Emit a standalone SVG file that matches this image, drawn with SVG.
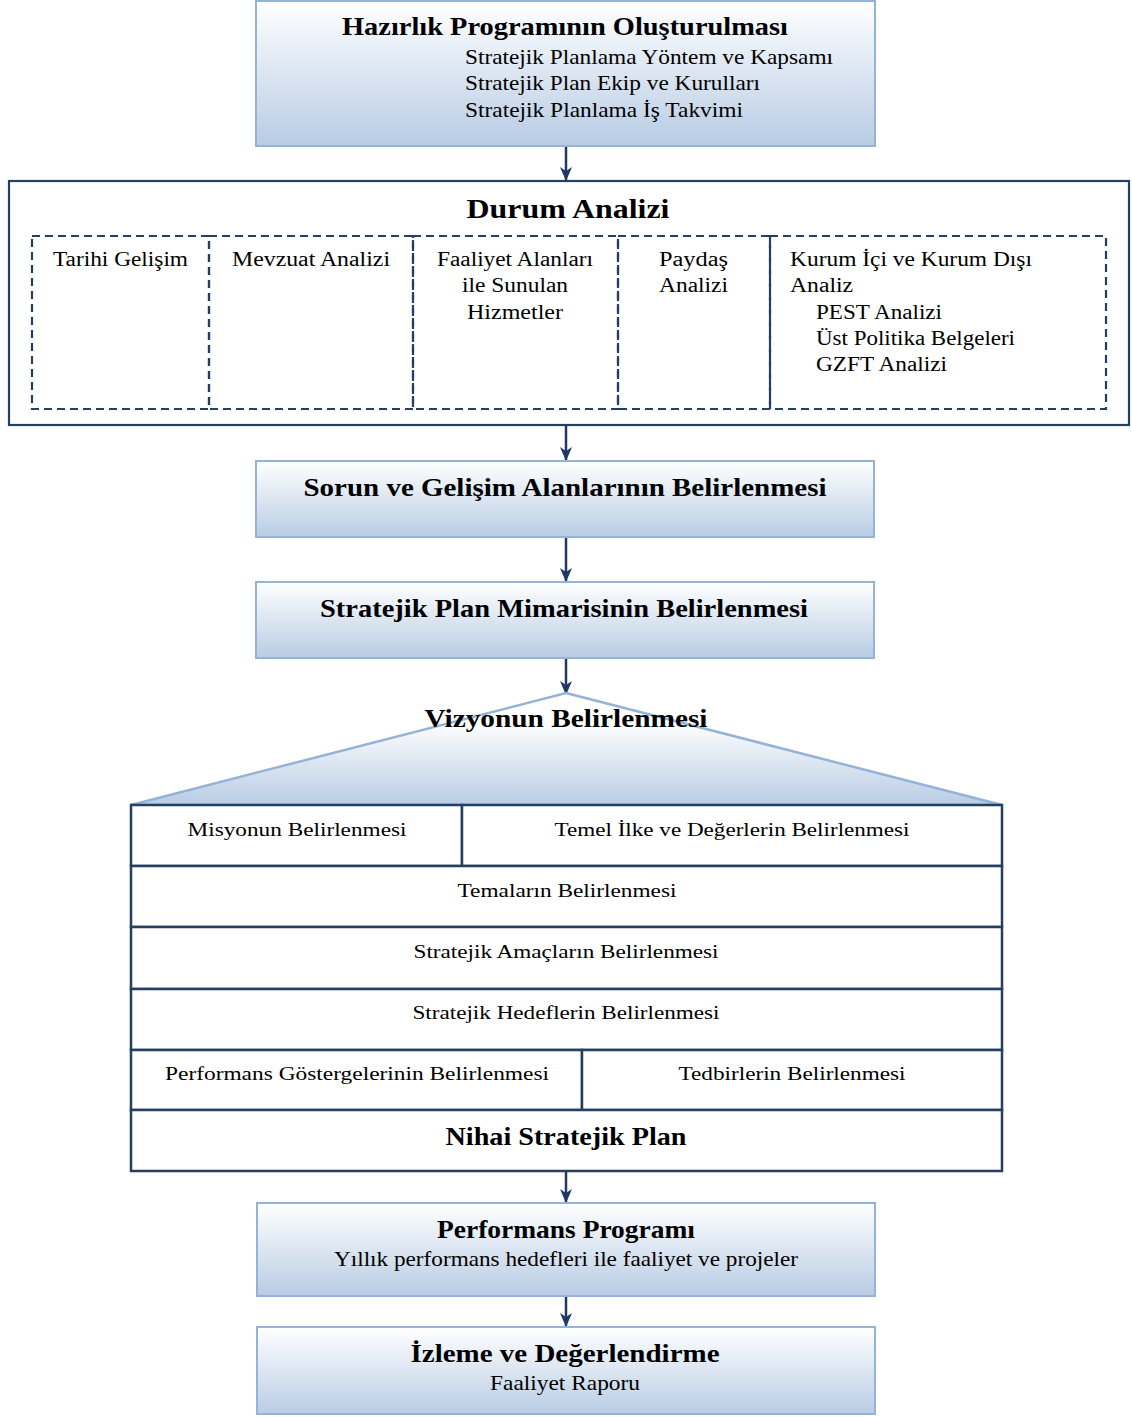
<svg xmlns="http://www.w3.org/2000/svg" width="1132" height="1417" viewBox="0 0 1132 1417">
<style>
text{font-family:"Liberation Serif","Times New Roman",serif;fill:#000}
.t{font-weight:bold;font-size:26px;text-anchor:middle}
.s{font-size:21px}
.m{font-size:20px}
.r{font-size:19px;text-anchor:middle}
.c{text-anchor:middle}
.gbox{fill:url(#g);stroke:#95b3d7;stroke-width:2}
.dash{fill:none;stroke:#243f60;stroke-width:2.2;stroke-dasharray:8 5}
.tab{fill:#fff;stroke:#243f60;stroke-width:2.5}
.con{stroke:#1f3864;stroke-width:2.5;fill:none;marker-end:url(#ah)}
</style>
<defs>
<linearGradient id="g" x1="0" y1="0" x2="0" y2="1">
<stop offset="0" stop-color="#ffffff"/>
<stop offset="1" stop-color="#b8cce4"/>
</linearGradient>
<linearGradient id="gt" x1="0" y1="0" x2="0" y2="1">
<stop offset="0.25" stop-color="#ffffff"/>
<stop offset="1" stop-color="#b8cce4"/>
</linearGradient>
<marker id="ah" markerWidth="14" markerHeight="12" refX="13" refY="6" orient="auto" markerUnits="userSpaceOnUse" viewBox="0 0 14 12">
<path d="M0,0 L14,6 L0,12 L4,6 Z" fill="#1f3864"/>
</marker>
</defs>

<g id="connectors">
<line class="con" x1="566" y1="147" x2="566" y2="180"/>
<line class="con" x1="566" y1="426" x2="566" y2="460"/>
<line class="con" x1="566" y1="538" x2="566" y2="581"/>
<line class="con" x1="566" y1="659" x2="566" y2="694"/>
<line class="con" x1="566" y1="1172" x2="566" y2="1202"/>
<line class="con" x1="566" y1="1297" x2="566" y2="1326"/>
</g>

<g id="hazirlik">
<rect class="gbox" x="256" y="1" width="619" height="145"/>
<text class="t" x="565" y="35" textLength="446" lengthAdjust="spacingAndGlyphs">Hazırlık Programının Oluşturulması</text>
<text class="s" x="465" y="64" textLength="368" lengthAdjust="spacingAndGlyphs">Stratejik Planlama Yöntem ve Kapsamı</text>
<text class="s" x="465" y="90" textLength="295" lengthAdjust="spacingAndGlyphs">Stratejik Plan Ekip ve Kurulları</text>
<text class="s" x="465" y="117" textLength="278" lengthAdjust="spacingAndGlyphs">Stratejik Planlama İş Takvimi</text>
</g>

<g id="durum">
<rect x="9" y="181" width="1120" height="244" fill="#fff" stroke="#243f60" stroke-width="2.2"/>
<text class="t" x="568" y="218" style="font-size:28px" textLength="203" lengthAdjust="spacingAndGlyphs">Durum Analizi</text>
<g id="tarihi">
<rect class="dash" x="32" y="236" width="177" height="173"/>
<text class="m" x="53" y="266" textLength="135" lengthAdjust="spacingAndGlyphs">Tarihi Gelişim</text>
</g>
<g id="mevzuat">
<rect class="dash" x="209" y="236" width="204" height="173"/>
<text class="m" x="232" y="266" textLength="158" lengthAdjust="spacingAndGlyphs">Mevzuat Analizi</text>
</g>
<g id="faaliyet">
<rect class="dash" x="413" y="236" width="205" height="173"/>
<text class="m c" x="515" y="266" textLength="156" lengthAdjust="spacingAndGlyphs">Faaliyet Alanları</text>
<text class="m c" x="515" y="292" textLength="106" lengthAdjust="spacingAndGlyphs">ile Sunulan</text>
<text class="m c" x="515" y="319" textLength="96" lengthAdjust="spacingAndGlyphs">Hizmetler</text>
</g>
<g id="paydas">
<rect class="dash" x="618" y="236" width="152" height="173"/>
<text class="m" x="659" y="266" textLength="69" lengthAdjust="spacingAndGlyphs">Paydaş</text>
<text class="m" x="659" y="292" textLength="69" lengthAdjust="spacingAndGlyphs">Analizi</text>
</g>
<g id="kurum">
<rect class="dash" x="770" y="236" width="336" height="173"/>
<text class="m" x="790" y="266" textLength="242" lengthAdjust="spacingAndGlyphs">Kurum İçi ve Kurum Dışı</text>
<text class="m" x="790" y="292" textLength="63" lengthAdjust="spacingAndGlyphs">Analiz</text>
<text class="m" x="816" y="319" textLength="126" lengthAdjust="spacingAndGlyphs">PEST Analizi</text>
<text class="m" x="816" y="345" textLength="199" lengthAdjust="spacingAndGlyphs">Üst Politika Belgeleri</text>
<text class="m" x="816" y="371" textLength="131" lengthAdjust="spacingAndGlyphs">GZFT Analizi</text>
</g>
</g>

<g id="sorun">
<rect class="gbox" x="256" y="461" width="618" height="76"/>
<text class="t" x="565" y="496" textLength="523" lengthAdjust="spacingAndGlyphs">Sorun ve Gelişim Alanlarının Belirlenmesi</text>
</g>

<g id="mimari">
<rect class="gbox" x="256" y="582" width="618" height="76"/>
<text class="t" x="564" y="617" textLength="488" lengthAdjust="spacingAndGlyphs">Stratejik Plan Mimarisinin Belirlenmesi</text>
</g>

<g id="vizyon">
<polygon points="566,693 1002,805 131,805" fill="url(#gt)" stroke="#95b3d7" stroke-width="2.5"/>
<text class="t" x="566" y="727" textLength="283" lengthAdjust="spacingAndGlyphs">Vizyonun Belirlenmesi</text>
</g>

<g id="misyon">
<rect class="tab" x="131" y="805" width="331" height="61"/>
<text class="r" x="297" y="836" textLength="219" lengthAdjust="spacingAndGlyphs">Misyonun Belirlenmesi</text>
</g>
<g id="temel">
<rect class="tab" x="462" y="805" width="540" height="61"/>
<text class="r" x="732" y="836" textLength="355" lengthAdjust="spacingAndGlyphs">Temel İlke ve Değerlerin Belirlenmesi</text>
</g>
<g id="temalar">
<rect class="tab" x="131" y="866" width="871" height="61"/>
<text class="r" x="567" y="897" textLength="219" lengthAdjust="spacingAndGlyphs">Temaların Belirlenmesi</text>
</g>
<g id="amaclar">
<rect class="tab" x="131" y="927" width="871" height="62"/>
<text class="r" x="566" y="958" textLength="305" lengthAdjust="spacingAndGlyphs">Stratejik Amaçların Belirlenmesi</text>
</g>
<g id="hedefler">
<rect class="tab" x="131" y="989" width="871" height="61"/>
<text class="r" x="566" y="1019" textLength="307" lengthAdjust="spacingAndGlyphs">Stratejik Hedeflerin Belirlenmesi</text>
</g>
<g id="gostergeler">
<rect class="tab" x="131" y="1050" width="451" height="60"/>
<text class="r" x="357" y="1080" textLength="384" lengthAdjust="spacingAndGlyphs">Performans Göstergelerinin Belirlenmesi</text>
</g>
<g id="tedbirler">
<rect class="tab" x="582" y="1050" width="420" height="60"/>
<text class="r" x="792" y="1080" textLength="227" lengthAdjust="spacingAndGlyphs">Tedbirlerin Belirlenmesi</text>
</g>
<g id="nihai">
<rect class="tab" x="131" y="1110" width="871" height="61"/>
<text class="t" x="566" y="1145" style="font-size:25px" textLength="241" lengthAdjust="spacingAndGlyphs">Nihai Stratejik Plan</text>
</g>

<g id="performans">
<rect class="gbox" x="257" y="1203" width="618" height="93"/>
<text class="t" x="566" y="1238" textLength="258" lengthAdjust="spacingAndGlyphs">Performans Programı</text>
<text class="s c" x="566" y="1266" textLength="464" lengthAdjust="spacingAndGlyphs">Yıllık performans hedefleri ile faaliyet ve projeler</text>
</g>

<g id="izleme">
<rect class="gbox" x="257" y="1327" width="618" height="87"/>
<text class="t" x="565" y="1362" textLength="309" lengthAdjust="spacingAndGlyphs">İzleme ve Değerlendirme</text>
<text class="s c" x="565" y="1390" textLength="150" lengthAdjust="spacingAndGlyphs">Faaliyet Raporu</text>
</g>
</svg>
